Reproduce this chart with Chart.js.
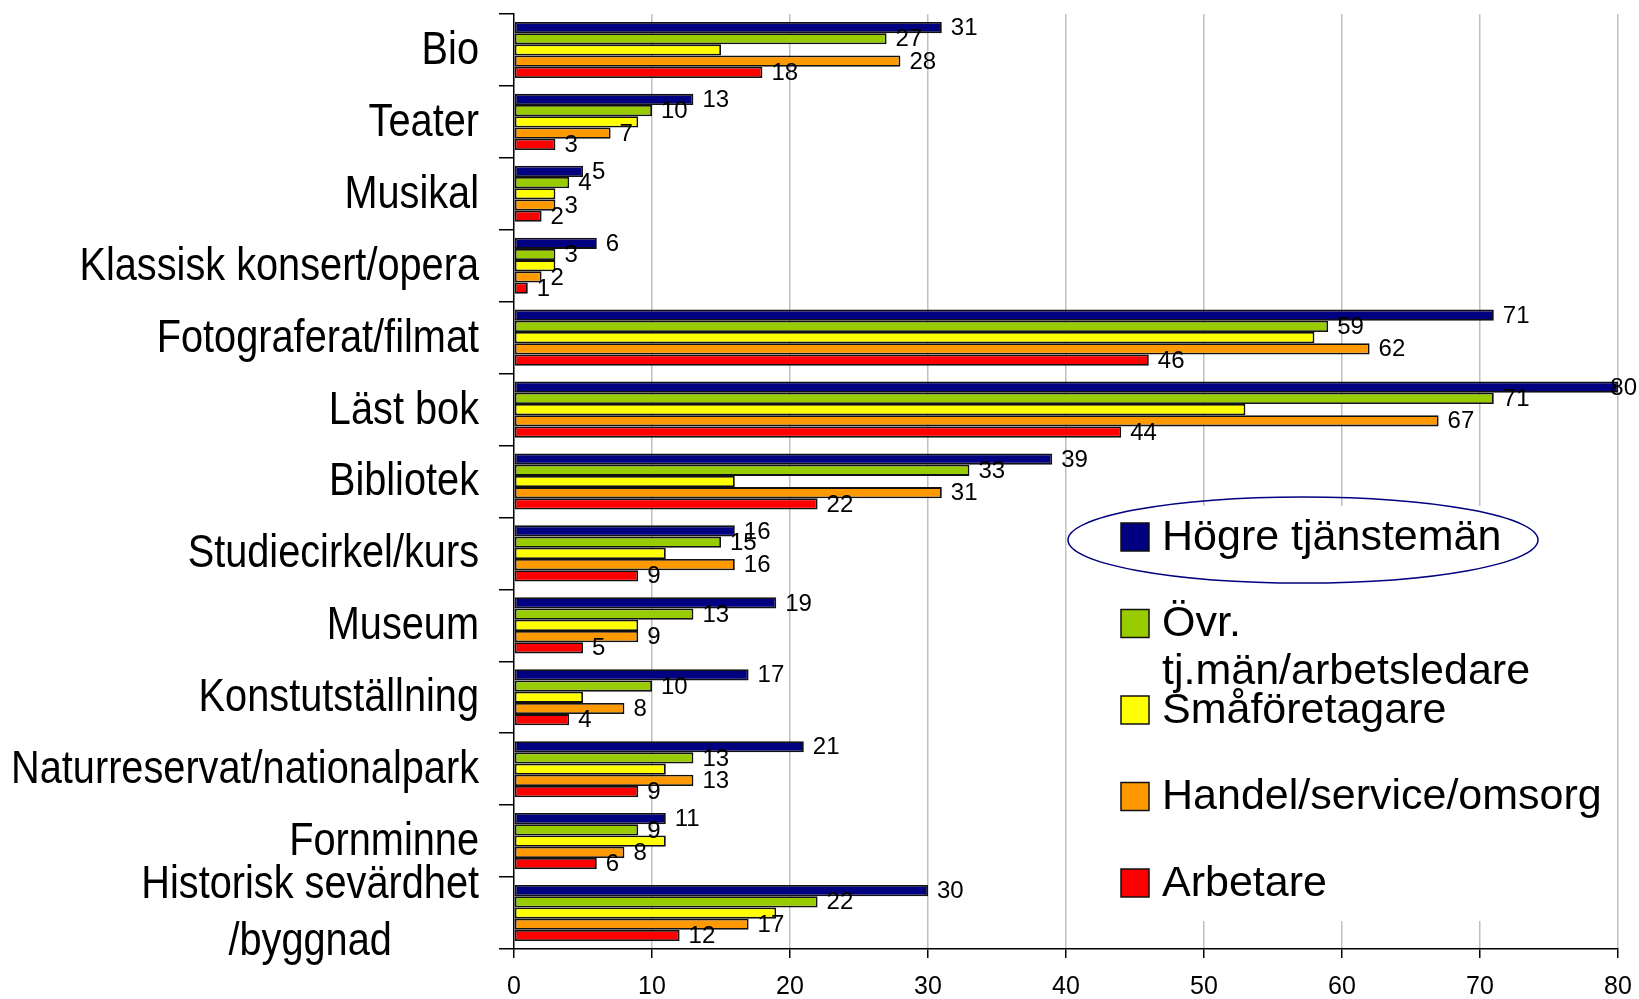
<!DOCTYPE html>
<html><head><meta charset="utf-8">
<script src="https://cdn.jsdelivr.net/npm/chart.js@4.4.0/dist/chart.umd.min.js"></script>
<style>html,body{margin:0;padding:0;background:#fff;overflow:hidden}canvas{display:block}</style>
</head><body>
<canvas id="c" width="1639" height="999"></canvas>
<script>
const categories = ['Bio','Teater','Musikal','Klassisk konsert/opera','Fotograferat/filmat','Läst bok','Bibliotek','Studiecirkel/kurs','Museum','Konstutställning','Naturreservat/nationalpark','Fornminne','Historisk sevärdhet /byggnad'];
const seriesNames = ['Högre tjänstemän','Övr. tj.män/arbetsledare','Småföretagare','Handel/service/omsorg','Arbetare'];
const hogre  = [31,13,5,6,71,80,39,16,19,17,21,11,30];
const ovr    = [27,10,4,3,59,71,33,15,13,10,13,9,22];
const smaf   = [15,9,3,3,58,53,16,11,9,5,11,11,19];
const handel = [28,7,3,2,62,67,31,16,9,8,13,8,17];
const arb    = [18,3,2,1,46,44,22,9,5,4,9,6,12];
const xMin = 0, xMax = 80, xStep = 10;

const colors = ['#000080','#99CC00','#FFFF00','#FF9900','#FF0000'];
const labelled = [true,true,false,true,true];
const seriesValues = [hogre, ovr, smaf, handel, arb];

const SANS = '"Liberation Sans", Arial, sans-serif';
const yFontSize = 47;
const NARROW_SCALE = 0.845;

// Category labels drawn in a condensed (Arial Narrow-like) face
const categoryLabels = {
  id: 'categoryLabels',
  afterDraw(chart) {
    const ctx = chart.ctx;
    const ys = chart.scales.y;
    const xRight = ys.right - 35;
    ctx.save();
    ctx.font = yFontSize + 'px ' + SANS;
    ctx.fillStyle = '#000';
    ctx.textBaseline = 'middle';
    chart.data.labels.forEach((lab, i) => {
      const yc = ys.getPixelForValue(i);
      const k = lab.indexOf(' /');
      const lines = k > 0 ? [lab.slice(0, k), lab.slice(k + 1)] : [lab];
      const lh = 57;
      const y0 = yc - (lines.length - 1) * lh / 2;
      const w1 = ctx.measureText(lines[0]).width * NARROW_SCALE;
      lines.forEach((ln, li) => {
        ctx.save();
        if (li === 0) {
          ctx.translate(xRight, y0 + li * lh);
          ctx.textAlign = 'right';
        } else {
          ctx.translate(xRight - w1 / 2, y0 + li * lh);
          ctx.textAlign = 'center';
        }
        ctx.scale(NARROW_SCALE, 1);
        ctx.fillText(ln, 0, 1);
        ctx.restore();
      });
    });
    ctx.restore();
  }
};

const valueLabels = {
  id: 'valueLabels',
  afterDatasetsDraw(chart) {
    const ctx = chart.ctx;
    ctx.save();
    ctx.font = '24px ' + SANS;
    ctx.fillStyle = '#000';
    ctx.textBaseline = 'middle';
    ctx.textAlign = 'left';
    chart.data.datasets.forEach((ds, i) => {
      if (!ds.showLabels) return;
      const meta = chart.getDatasetMeta(i);
      meta.data.forEach((bar, j) => {
        const t = String(ds.data[j]);
        const w = ctx.measureText(t).width;
        let x = bar.x + 9;
        if (x + w > chart.width - 2) x = chart.width - 2 - w;
        ctx.fillText(t, x, bar.y + 1);
      });
    });
    ctx.restore();
  }
};

const legendBox = {
  id: 'legendBox',
  beforeDatasetsDraw(chart) {
    const ctx = chart.ctx;
    ctx.save();
    ctx.fillStyle = '#fff';
    ctx.fillRect(1068, 506, 548, 415);
    ctx.restore();
  },
  afterDraw(chart) {
    const ctx = chart.ctx;
    ctx.save();
    ctx.font = '43px ' + SANS;
    ctx.textBaseline = 'middle';
    ctx.textAlign = 'left';
    chart.data.datasets.forEach((ds, i) => {
      const cy = 537 + i * 86.5;
      ctx.fillStyle = ds.backgroundColor;
      ctx.fillRect(1121, cy - 14, 28, 28);
      ctx.strokeStyle = '#111';
      ctx.lineWidth = 1.5;
      ctx.strokeRect(1121, cy - 14, 28, 28);
      ctx.fillStyle = '#000';
      const name = ds.label;
      if (name.startsWith('Övr. ')) {
        ctx.fillText('Övr.', 1162, cy + 1);
        ctx.fillText(name.slice(5), 1162, cy + 49);
      } else {
        ctx.fillText(name, 1162, cy + 1);
      }
    });
    ctx.beginPath();
    ctx.ellipse(1303, 540, 235, 43, 0, 0, Math.PI * 2);
    ctx.strokeStyle = '#000080';
    ctx.lineWidth = 1.5;
    ctx.stroke();
    ctx.restore();
  }
};

new Chart(document.getElementById('c'), {
  type: 'bar',
  data: {
    labels: categories,
    datasets: seriesNames.map((n, i) => ({
      label: n,
      data: seriesValues[i],
      backgroundColor: colors[i],
      borderColor: '#111',
      borderWidth: 1.8,
      borderSkipped: false,
      categoryPercentage: 0.78,
      barPercentage: 1.0,
      showLabels: labelled[i]
    }))
  },
  options: {
    indexAxis: 'y',
    responsive: false,
    animation: false,
    devicePixelRatio: 1,
    layout: { padding: { top: 14, right: 21, left: 0, bottom: 0 } },
    plugins: { legend: { display: false }, tooltip: { enabled: false } },
    scales: {
      x: {
        min: xMin, max: xMax,
        ticks: { stepSize: xStep, font: { family: SANS, size: 25 }, color: '#000', padding: 14, maxRotation: 0 },
        grid: { color: (c) => (c.tick && c.tick.value === 0) ? 'rgba(0,0,0,0)' : '#c0c0c0', lineWidth: 1.5, tickColor: '#000', tickLength: 9 },
        border: { color: '#000', width: 1.5 },
        afterFit: (s) => { s.height = 50; s.paddingLeft = 0; s.paddingRight = 0; }
      },
      y: {
        offset: true,
        grid: { offset: true, drawOnChartArea: false, color: '#000', tickColor: '#000', tickLength: 15, lineWidth: 1.5 },
        border: { color: '#000', width: 1.5 },
        ticks: { display: false, autoSkip: false },
        afterFit: (s) => { s.width = 514; s.paddingTop = 0; s.paddingBottom = 0; }
      }
    }
  },
  plugins: [legendBox, valueLabels, categoryLabels]
});
</script>
</body></html>
